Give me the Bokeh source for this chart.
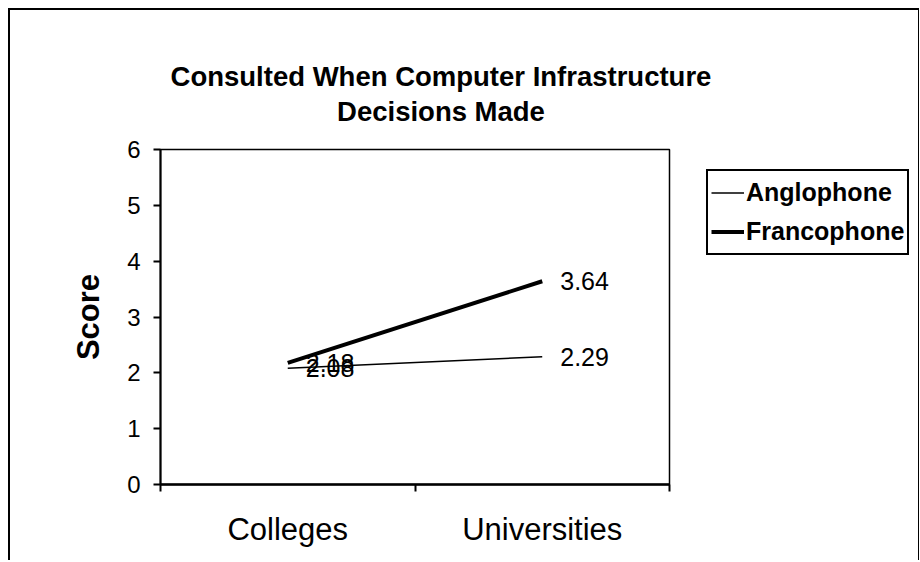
from bokeh.plotting import figure
from bokeh.layouts import row, column
from bokeh.models import (ColumnDataSource, Range1d, FixedTicker, LabelSet, Legend,
                          LegendItem, Div)
from bokeh.core.properties import value
from bokeh.embed import file_html
from bokeh.resources import INLINE

# ---- data ----
categories = ["Colleges", "Universities"]
series_names = ["Anglophone", "Francophone"]
anglophone = [2.08, 2.29]
francophone = [2.18, 3.64]
y_ticks = [0, 1, 2, 3, 4, 5, 6]
title_lines = ["Consulted When Computer Infrastructure", "Decisions Made"]
y_title = "Score"

FONT = "Liberation Sans"

xs = [i + 0.5 for i in range(len(categories))]
x_bounds = [float(i) for i in range(len(categories) + 1)]

# ---- title (content of the whole block starts at (10, 10) on the page) ----
title = Div(
    text=('<div style="font-family: \'Liberation Sans\'; font-size: 27.5px; '
          'font-weight: bold; line-height: 35px; text-align: center; color: black; '
          'width: 862px; padding-top: 49px;">'
          + "<br>".join(title_lines) + "</div>"),
    width=908, height=117, margin=0)

# ---- main chart ----
p = figure(width=661, height=433, output_backend="svg", toolbar_location=None,
           x_range=Range1d(0, len(categories)), y_range=Range1d(y_ticks[0], y_ticks[-1]),
           min_border_left=150, min_border_right=2, min_border_top=22,
           min_border_bottom=76)
p.title.visible = False
p.xgrid.visible = False
p.ygrid.visible = False
p.outline_line_color = "black"
p.outline_line_width = 1.5
p.background_fill_color = "white"
p.border_fill_color = "white"

xa = p.xaxis[0]
xa.ticker = FixedTicker(ticks=xs, minor_ticks=x_bounds)
xa.major_label_overrides = {x: c for x, c in zip(xs, categories)}
xa.major_tick_out = 0
xa.major_tick_in = 0
xa.minor_tick_out = 7
xa.minor_tick_in = 0
xa.minor_tick_line_color = "black"
xa.minor_tick_line_width = 2
xa.axis_line_color = "black"
xa.axis_line_width = 2.5
xa.major_label_text_font = FONT
xa.major_label_text_font_size = "31px"
xa.major_label_text_color = "black"
xa.major_label_standoff = 20

ya = p.yaxis[0]
ya.ticker = FixedTicker(ticks=y_ticks)
ya.minor_tick_line_color = None
ya.major_tick_out = 7
ya.major_tick_in = 0
ya.major_tick_line_color = "black"
ya.major_tick_line_width = 2
ya.axis_line_color = "black"
ya.axis_line_width = 2
ya.major_label_text_font = FONT
ya.major_label_text_font_size = "24px"
ya.major_label_text_color = "black"
ya.major_label_standoff = 13
ya.axis_label = y_title
ya.axis_label_text_font = FONT
ya.axis_label_text_font_size = "31px"
ya.axis_label_text_font_style = "bold"
ya.axis_label_text_color = "black"
ya.axis_label_standoff = 18

src_a = ColumnDataSource(dict(x=xs, y=anglophone, lbl=[f"{v:.2f}" for v in anglophone]))
src_f = ColumnDataSource(dict(x=xs, y=francophone, lbl=[f"{v:.2f}" for v in francophone]))
p.line("x", "y", source=src_a, line_color="black", line_width=1.5)
p.line("x", "y", source=src_f, line_color="black", line_width=4)

for src in (src_a, src_f):
    p.add_layout(LabelSet(x="x", y="y", text="lbl", source=src, x_offset=18,
                          text_baseline="middle", text_align="left",
                          text_font=value(FONT), text_font_size=value("25px"),
                          text_color="black"))

# ---- legend panel to the right of the chart (legend proxies drawn off-range) ----
lp = figure(width=247, height=433, output_backend="svg", toolbar_location=None,
            x_range=Range1d(100, 101), y_range=Range1d(y_ticks[0], y_ticks[-1]),
            x_axis_location=None, y_axis_location=None,
            min_border_left=0, min_border_right=0, min_border_top=0,
            min_border_bottom=0)
lp.title.visible = False
lp.xgrid.visible = False
lp.ygrid.visible = False
lp.outline_line_color = None
lp.background_fill_color = "white"
lp.border_fill_color = "white"
ra = lp.line("x", "y", source=src_a, line_color="black", line_width=1.5)
rf = lp.line("x", "y", source=src_f, line_color="black", line_width=4)

legend = Legend(items=[LegendItem(label=series_names[0], renderers=[ra]),
                       LegendItem(label=series_names[1], renderers=[rf])],
                location=(35, 229), orientation="vertical")
legend.margin = 0
legend.padding = 3
legend.spacing = 2
legend.label_height = 37
legend.glyph_height = 37
legend.glyph_width = 33
legend.label_standoff = 2
legend.label_text_font = FONT
legend.label_text_font_size = "25px"
legend.label_text_font_style = "bold"
legend.label_text_color = "black"
legend.border_line_color = "black"
legend.border_line_width = 2
legend.border_line_alpha = 1
legend.background_fill_color = "white"
legend.background_fill_alpha = 1
lp.add_layout(legend, "center")

layout = column(title, row(p, lp))
layout.styles = {"margin-left": "8px", "margin-top": "8px",
                 "border-top": "2px solid black", "border-left": "2px solid black",
                 "border-right": "1px solid black"}

open("out.html", "w").write(file_html(layout, INLINE))
